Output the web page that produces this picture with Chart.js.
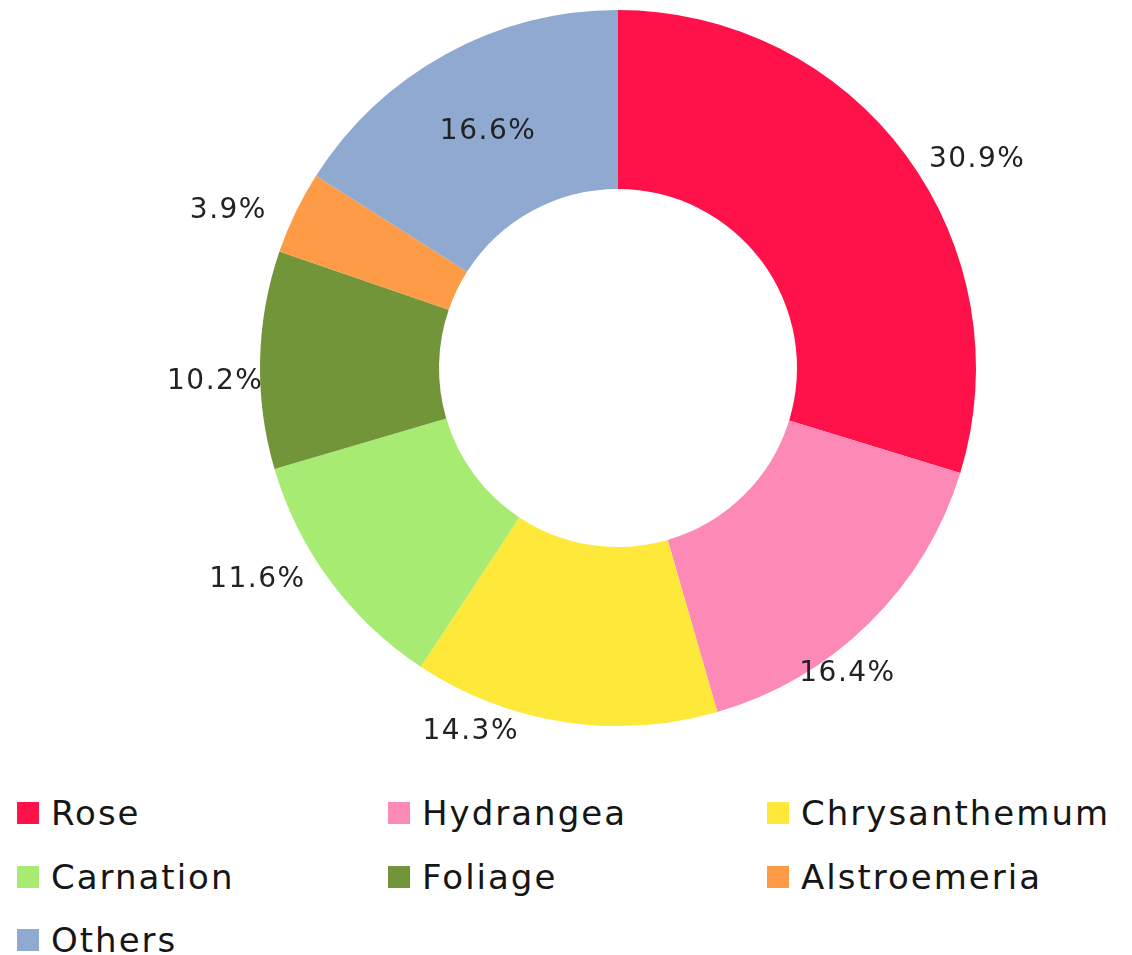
<!DOCTYPE html>
<html>
<head>
<meta charset="utf-8">
<script src="https://cdn.jsdelivr.net/npm/chart.js@4"></script>
<style>
  html, body { margin: 0; padding: 0; background: #fff; }
  #wrap { position: relative; width: 1132px; height: 955px; }
  #chartBox { position: absolute; left: 0; top: 0; width: 1132px; height: 780px; }
  .item { position: absolute; display: flex; align-items: center; height: 40px;
          font-family: "DejaVu Sans", sans-serif; font-size: 34px; letter-spacing: 2px; color: #161616; }
  .sw { width: 22px; height: 22px; margin-right: 12px; }
</style>
</head>
<body>
<div id="wrap">
  <div id="chartBox"><canvas id="flowerChart" width="1132" height="780"></canvas></div>
  <div id="legend"></div>
</div>
<script>
// flower share by type, %
const categories = ['Rose', 'Hydrangea', 'Chrysanthemum', 'Carnation', 'Foliage', 'Alstroemeria', 'Others'];
const shares = [30.9, 16.4, 14.3, 11.6, 10.2, 3.9, 16.6];
const colors = ['#ff1149', '#fd8ab6', '#fee83a', '#a7eb72', '#72953a', '#fe9b47', '#8fa9d1'];

// label placement tweaks: degrees added to the slice mid angle, px beyond the outer edge
const labelShift = [6.4, 7.6, 13.4, 6.1, -3.2, -3.8, 0];
const labelGap = [57, 24, 34, 60, 45, 62, -88];

const pctLabels = {
    id: 'pctLabels',
    afterDatasetsDraw(chart) {
        const ctx = chart.ctx;
        const meta = chart.getDatasetMeta(0);
        ctx.save();
        ctx.font = '28px "DejaVu Sans", sans-serif';
        ctx.letterSpacing = '1.5px';
        ctx.fillStyle = '#222';
        ctx.textAlign = 'center';
        ctx.textBaseline = 'middle';
        meta.data.forEach((arc, i) => {
            const p = arc.getProps(['x', 'y', 'startAngle', 'endAngle', 'outerRadius'], true);
            const mid = (p.startAngle + p.endAngle) / 2 + labelShift[i] * Math.PI / 180;
            const r = p.outerRadius + labelGap[i];
            ctx.fillText(shares[i].toFixed(1) + '%', p.x + Math.cos(mid) * r, p.y + Math.sin(mid) * r);
        });
        ctx.restore();
    }
};

document.addEventListener('DOMContentLoaded', () => {
    const ctx = document.getElementById('flowerChart').getContext('2d');
    new Chart(ctx, {
        type: 'doughnut',
        data: {
            labels: categories,
            datasets: [{
                data: shares,
                backgroundColor: colors,
                borderWidth: 0,
            }],
        },
        options: {
            responsive: false,
            animation: false,
            cutout: '50%',
            layout: { padding: { left: 260, right: 156, top: 10, bottom: 54 } },
            plugins: {
                legend: { display: false },
                tooltip: { enabled: false },
            },
        },
        plugins: [pctLabels],
    });

    // legend: 3 columns
    const colX = [17, 388, 767];
    const rowY = [813, 877, 940];
    const legend = document.getElementById('legend');
    categories.forEach((name, i) => {
        const el = document.createElement('div');
        el.className = 'item';
        el.style.left = colX[i % 3] + 'px';
        el.style.top = (rowY[Math.floor(i / 3)] - 20) + 'px';
        el.innerHTML = '<span class="sw" style="background:' + colors[i] + '"></span><span>' + name + '</span>';
        legend.appendChild(el);
    });
});
</script>
</body>
</html>
